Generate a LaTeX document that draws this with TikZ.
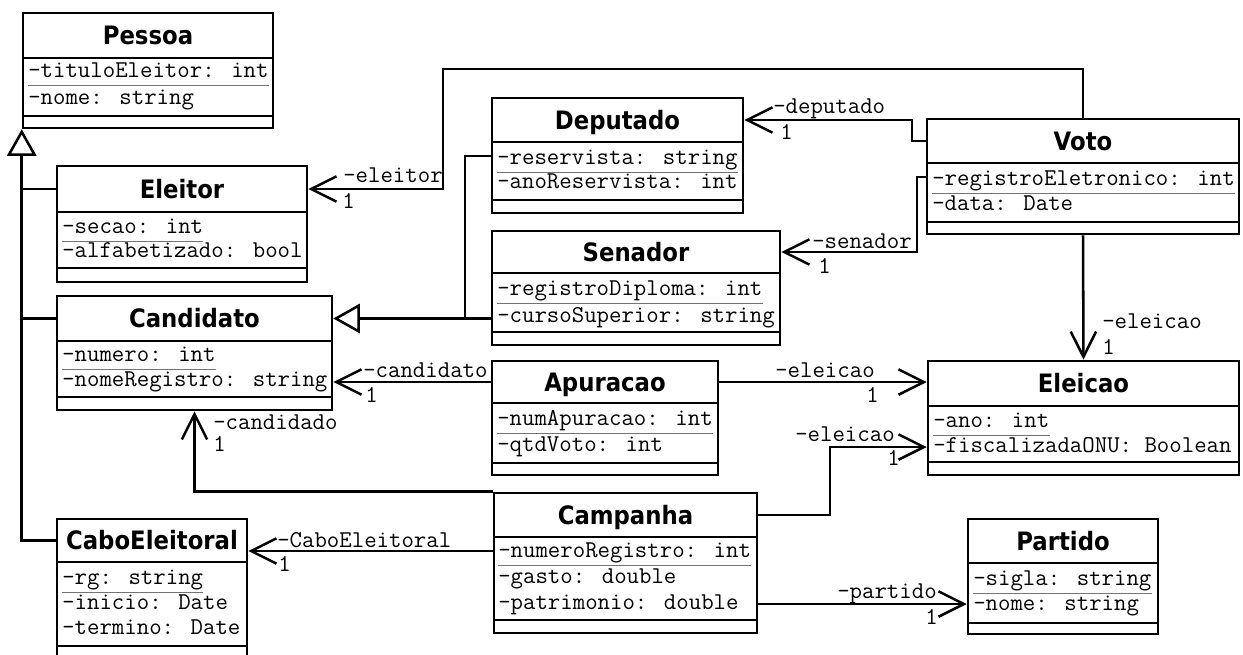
\documentclass[tikz,border=0pt]{standalone}
\usepackage{fontspec}
\newfontfamily\titlefont{DejaVu Sans}[FakeStretch=0.9]
\usetikzlibrary{arrows.meta,fit}

\tikzset{
  classframe/.style={draw, line width=1.9pt, inner sep=0pt, fill=white},
  frameline/.style={line width=1.9pt},
  ctitle/.style={font=\titlefont\bfseries\fontsize{19}{22}\selectfont,
    inner sep=0pt, text height=13.8pt, text depth=0pt},
  attrtext/.style={font=\ttfamily\fontsize{18.1}{20}\selectfont,
    inner sep=0pt, anchor=base west},
  rowrulestyle/.style={line width=1.2pt, draw=black!55},
  genline/.style={line width=1.9pt, line join=miter},
  gen/.style={genline, -{Triangle[length=20pt,width=22pt,fill=white]}},
  assoc/.style={line width=1.9pt, line join=miter, -{Straight Barb[length=19pt,width=19pt]}},
  rolelabel/.style={font=\ttfamily\fontsize{18.1}{20}\selectfont,
    inner sep=0pt, anchor=base west},
}

% class box: id, left, top, right, title rule, operations rule, bottom
\newcommand\umlclass[7]{%
  \node[classframe, fit={(#2,#3) (#4,#7)}] (#1) {};
  \coordinate (#1-tc) at ({(#2+#4)/2},{(#3+#5)/2});
  \draw[frameline] (#2,#5) -- (#4,#5);
  \draw[frameline] (#2,#6) -- (#4,#6);
}
% attribute row: name, x, row centre y, text
\newcommand\attrrow[4]{\node[attrtext] (#1) at (#2,#3+5) {#4};}
% grey rule below an attribute row
\newcommand\rowrule[1]{\draw[rowrulestyle] ([yshift=-6.3pt]#1.base west) -- ([yshift=-6.3pt]#1.base east);}
% role / multiplicity label: name, x, baseline y, text
\newcommand\rolelbl[4]{\node[rolelabel] (#1) at (#2,#3) {#4};}

\begin{document}
\begin{tikzpicture}[x=0.75pt,y=-0.75pt]
\useasboundingbox (0,0) rectangle (1243,654);
\clip (0,0) rectangle (1243,654);

% ---------- classes ----------
\umlclass{pessoa}{23}{13}{273}{58}{116}{128}
\node[ctitle] (pessoa-t) at (pessoa-tc) {Pessoa};
\attrrow{pessoa-a1}{28}{72}{-tituloEleitor: int}
\attrrow{pessoa-a2}{28}{99}{-nome: string}
\rowrule{pessoa-a1}

\umlclass{eleitor}{57}{166}{307}{212}{268}{282}
\node[ctitle] (eleitor-t) at (eleitor-tc) {Eleitor};
\attrrow{eleitor-a1}{62}{228}{-secao: int}
\attrrow{eleitor-a2}{62}{252}{-alfabetizado: bool}
\rowrule{eleitor-a1}

\umlclass{candidato}{57}{296}{332}{341}{397}{410}
\node[ctitle] (candidato-t) at (candidato-tc) {Candidato};
\attrrow{candidato-a1}{62}{356}{-numero: int}
\attrrow{candidato-a2}{62}{381}{-nomeRegistro: string}
\rowrule{candidato-a1}

\umlclass{cabo}{57}{519}{247}{562}{646}{662}
\node[ctitle] (cabo-t) at (cabo-tc) {CaboEleitoral};
\attrrow{cabo-a1}{62}{579}{-rg: string}
\attrrow{cabo-a2}{62}{604}{-inicio: Date}
\attrrow{cabo-a3}{62}{629}{-termino: Date}
\rowrule{cabo-a1}

\umlclass{deputado}{492}{98}{743}{142}{200}{213}
\node[ctitle] (deputado-t) at (deputado-tc) {Deputado};
\attrrow{deputado-a1}{497}{159}{-reservista: string}
\attrrow{deputado-a2}{497}{183}{-anoReservista: int}
\rowrule{deputado-a1}

\umlclass{senador}{492}{231}{780}{273}{332}{345}
\node[ctitle] (senador-t) at (senador-tc) {Senador};
\attrrow{senador-a1}{497}{290}{-registroDiploma: int}
\attrrow{senador-a2}{497}{317}{-cursoSuperior: string}
\rowrule{senador-a1}

\umlclass{apuracao}{492}{361}{718}{403}{463}{475}
\node[ctitle] (apuracao-t) at (apuracao-tc) {Apuracao};
\attrrow{apuracao-a1}{497}{420}{-numApuracao: int}
\attrrow{apuracao-a2}{497}{446}{-qtdVoto: int}
\rowrule{apuracao-a1}

\umlclass{campanha}{494}{493}{757}{537}{620}{633}
\node[ctitle] (campanha-t) at (campanha-tc) {Campanha};
\attrrow{campanha-a1}{498}{552}{-numeroRegistro: int}
\attrrow{campanha-a2}{498}{578}{-gasto: double}
\attrrow{campanha-a3}{498}{604}{-patrimonio: double}
\rowrule{campanha-a1}

\umlclass{voto}{927}{119}{1239}{163}{222}{234}
\node[ctitle] (voto-t) at (voto-tc) {Voto};
\attrrow{voto-a1}{932}{180}{-registroEletronico: int}
\attrrow{voto-a2}{932}{205}{-data: Date}
\rowrule{voto-a1}

\umlclass{eleicao}{928}{361}{1239}{406}{462}{475}
\node[ctitle] (eleicao-t) at (eleicao-tc) {Eleicao};
\attrrow{eleicao-a1}{933}{422}{-ano: int}
\attrrow{eleicao-a2}{933}{447}{-fiscalizadaONU: Boolean}
\rowrule{eleicao-a1}

\umlclass{partido}{968}{519}{1158}{563}{623}{634}
\node[ctitle] (partido-t) at (partido-tc) {Partido};
\attrrow{partido-a1}{973}{580}{-sigla: string}
\attrrow{partido-a2}{973}{605}{-nome: string}
\rowrule{partido-a1}

% ---------- bend points ----------
\coordinate (bEleitor) at (443,69);
\coordinate (bDeputado) at (912,120);
\coordinate (bSenador) at (917,177);
\coordinate (bEleicao) at (830,447);
\coordinate (gDeputado) at (465,156);
\coordinate (cCabo) at (494,551);
\coordinate (cPartido) at (757,604);

% ---------- generalisations ----------
\draw[gen] (cabo.west |- cabo-tc) -| (pessoa.south west);
\draw[genline] (eleitor.west |- eleitor-tc) -- (pessoa.south west |- eleitor-tc);
\draw[genline] (candidato.west |- candidato-tc) -- (pessoa.south west |- candidato-tc);
\draw[gen] (senador.west |- candidato-tc) -- (candidato.east |- candidato-tc);
\draw[genline] (deputado.west |- gDeputado) -- (gDeputado) -- (gDeputado |- candidato-tc);

% ---------- associations ----------
\draw[assoc] (voto.north) |- (bEleitor) |- (eleitor.east |- eleitor-tc);
\draw[assoc] (voto.west |- voto-tc) -| (bDeputado) -- (deputado.east |- bDeputado);
\draw[assoc] (voto.west |- bSenador) -- (bSenador) |- (senador.east |- senador-tc);
\draw[assoc] (voto.south) -- (eleicao.north);
\draw[assoc] (apuracao.east |- apuracao-tc) -- (eleicao.west |- apuracao-tc);
\draw[assoc] (apuracao.west |- apuracao-tc) -- (candidato.east |- apuracao-tc);
\draw[assoc] (campanha.north west) -| (candidato.south);
\draw[assoc] (cCabo) -- (cabo.east |- cCabo);
\draw[assoc] (campanha.east |- campanha-tc) -| (bEleicao) -- (eleicao.west |- bEleicao);
\draw[assoc] (cPartido) -- (partido.west |- cPartido);

% ---------- role names and multiplicities ----------
\rolelbl{l-eleitor}{343}{182}{-eleitor}
\rolelbl{m-eleitor}{342}{208}{1}
\rolelbl{l-deputado}{773}{113}{-deputado}
\rolelbl{m-deputado}{780}{139}{1}
\rolelbl{l-senador}{812}{248}{-senador}
\rolelbl{m-senador}{818}{273}{1}
\rolelbl{l-eleicao1}{1102}{328}{-eleicao}
\rolelbl{m-eleicao1}{1102}{354}{1}
\rolelbl{l-eleicao2}{775}{377}{-eleicao}
\rolelbl{m-eleicao2}{866}{402}{1}
\rolelbl{l-candidato}{363}{377}{-candidato}
\rolelbl{m-candidato}{365}{402}{1}
\rolelbl{l-candidado}{213}{429}{-candidado}
\rolelbl{m-candidado}{213}{451}{1}
\rolelbl{l-cabo}{277}{547}{-CaboEleitoral}
\rolelbl{m-cabo}{278}{571}{1}
\rolelbl{l-eleicao3}{795}{441}{-eleicao}
\rolelbl{m-eleicao3}{887}{465}{1}
\rolelbl{l-partido}{837}{598}{-partido}
\rolelbl{m-partido}{925}{624}{1}
\end{tikzpicture}
\end{document}
